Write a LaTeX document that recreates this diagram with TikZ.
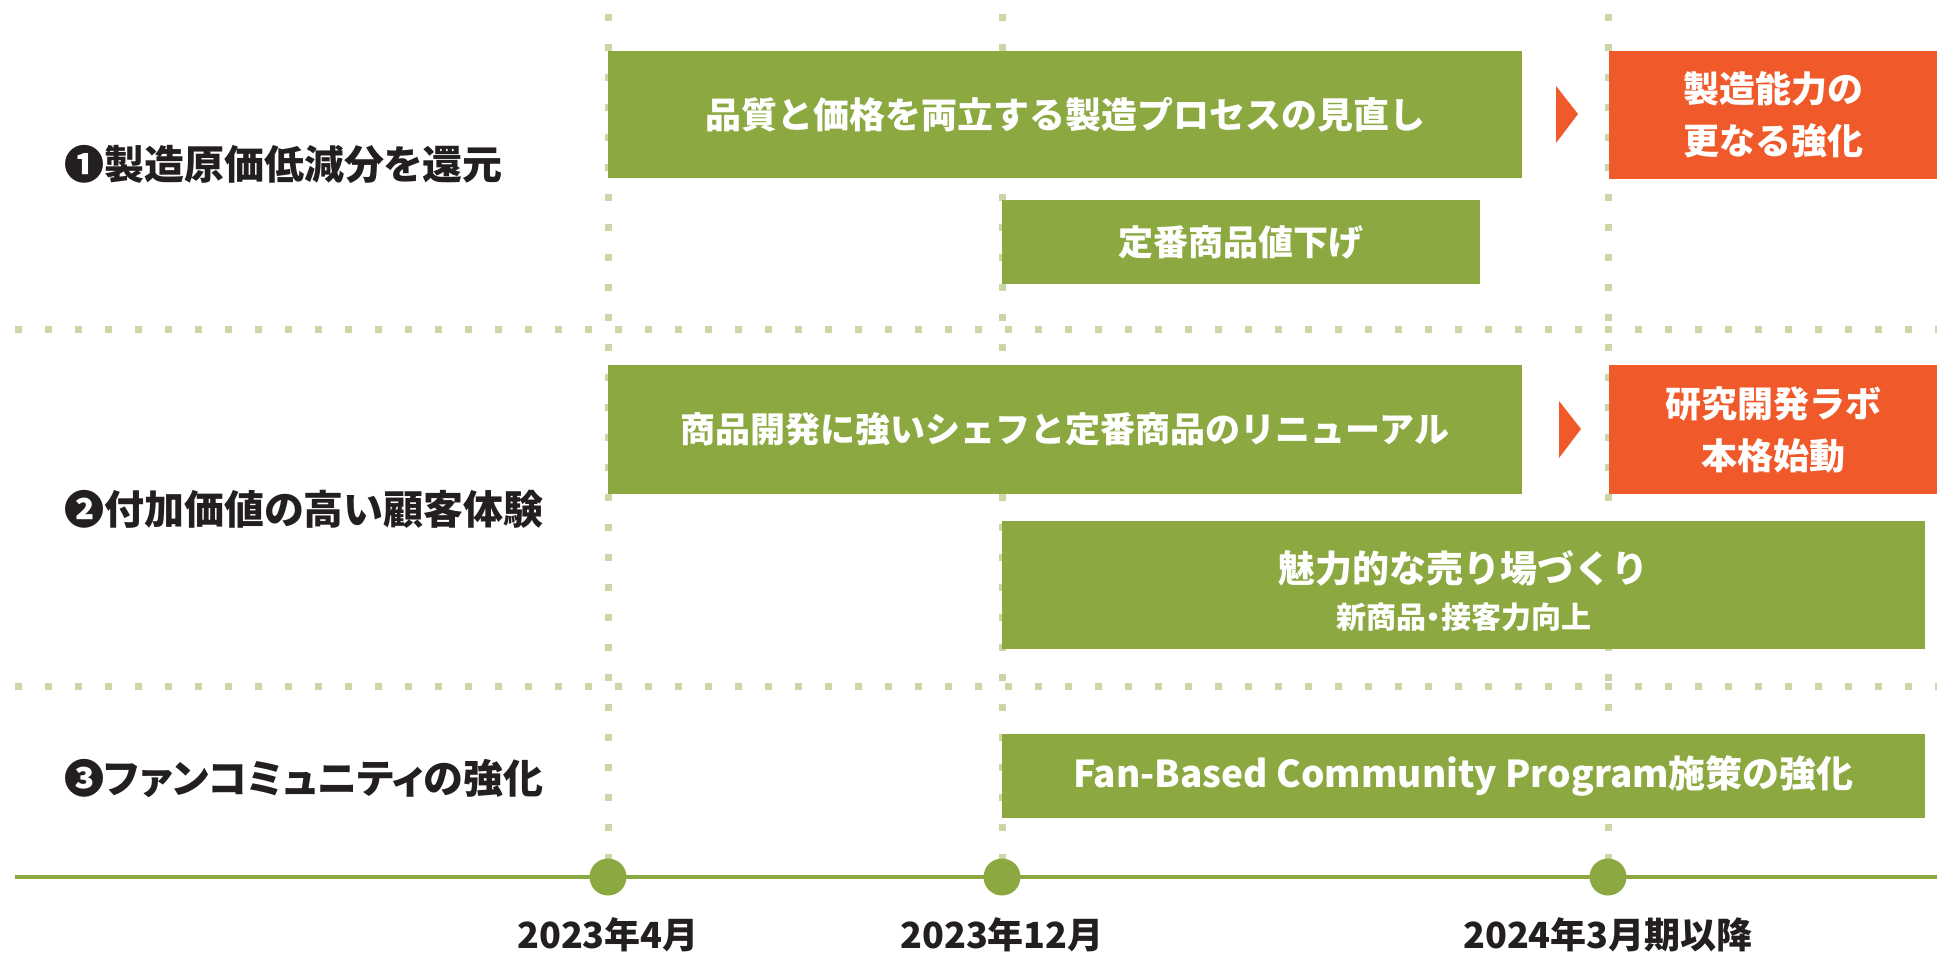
\documentclass[tikz,border=0pt]{standalone}
\usepackage{fontspec}
\newfontfamily\jp{Noto Sans CJK JP}
\newfontfamily\jpp{Noto Sans CJK JP}[RawFeature=+palt]
\definecolor{boxgreen}{RGB}{139,169,64}
\definecolor{boxorange}{RGB}{240,90,42}
\definecolor{dotgreen}{RGB}{204,213,165}
\definecolor{labeltext}{RGB}{35,31,32}
\tikzset{
  gridline/.style={dotgreen, line width=7pt, dash pattern=on 7pt off 23pt},
  gbox/.style={rectangle, fill=boxgreen, text=white, inner sep=0pt, align=center, font=\jp\bfseries\fontsize{35}{42}\selectfont},
  obox/.style={rectangle, fill=boxorange, text=white, inner sep=0pt, align=center, font=\jp\bfseries\fontsize{36}{52}\selectfont},
  rowlabel/.style={anchor=west, inner sep=0pt, text=labeltext, font=\jpp\bfseries\fontsize{40}{44}\selectfont},
  datelabel/.style={inner sep=0pt, text=labeltext, font=\jp\bfseries\fontsize{36}{40}\selectfont},
  tick/.style={circle, fill=boxgreen, minimum size=37pt, inner sep=0pt},
  pointer/.style={fill=boxorange}
}
\begin{document}
\begin{tikzpicture}[x=1pt, y=-1pt]
\useasboundingbox (0,0) rectangle (1937,953);
% grid
\draw[gridline] (15,329) -- (1937,329);
\draw[gridline] (15,686) -- (1937,686);
\draw[gridline] (608,14) -- (608,860);
\draw[gridline] (1002,14) -- (1002,860);
\draw[gridline] (1608,14) -- (1608,860);
% axis
\coordinate (axL) at (15,877);
\coordinate (axR) at (1937,877);
\draw[boxgreen, line width=4pt] (axL) -- (axR);
\node[tick] (t1) at (608,877) {};
\node[tick] (t2) at (1002,877) {};
\node[tick] (t3) at (1608,877) {};
\node[datelabel, anchor=north] (d1) at (608,917) {2023年4月};
\node[datelabel, anchor=north] (d2) at (1002,917) {2023年12月};
\node[datelabel, anchor=north] (d3) at (1608,917) {2024年3月期以降};
% row labels
\node[rowlabel] (r1) at (64,164) {❶製造原価低減分を還元};
\node[rowlabel] (r2) at (64,509) {❷付加価値の高い顧客体験};
\node[rowlabel] (r3) at (64,779) {❸ファンコミュニティの強化};
% boxes
\node[gbox, minimum width=914pt, minimum height=127pt, font=\jp\bfseries\fontsize{36}{42}\selectfont] (b1) at (1065,114.5) {品質と価格を両立する製造プロセスの見直し};
\node[gbox, minimum width=478pt, minimum height=84pt] (b2) at (1241,242) {定番商品値下げ};
\node[obox, minimum width=328pt, minimum height=128pt] (o1) at (1773,115) {製造能力の\\更なる強化};
\node[gbox, minimum width=914pt, minimum height=129pt] (b3) at (1065,429.5) {商品開発に強いシェフと定番商品のリニューアル};
\node[obox, minimum width=328pt, minimum height=129pt] (o2) at (1773,429.5) {研究開発ラボ\\本格始動};
\node[gbox, minimum width=923pt, minimum height=128pt] (b4) at (1463.5,585) {};
\node[text=white, align=center, inner sep=0pt, font=\jp\bfseries\fontsize{37}{44}\selectfont] (b4t) at ([yshift=-6pt]b4.center) {{\jp\bfseries\fontsize{37}{44}\selectfont 魅力的な売り場づくり}\\[2pt]{\jpp\bfseries\fontsize{30}{34}\selectfont 新商品・接客力向上}};
\node[gbox, minimum width=923pt, minimum height=84pt, font=\jp\bfseries\fontsize{37}{42}\selectfont] (b5) at (1463.5,776) {Fan-Based Community Program施策の強化};
% pointers
\fill[pointer] (1556,86) -- (1578,114) -- (1556,143) -- cycle;
\fill[pointer] (1559,401) -- (1581,429) -- (1559,458) -- cycle;
\end{tikzpicture}
\end{document}
